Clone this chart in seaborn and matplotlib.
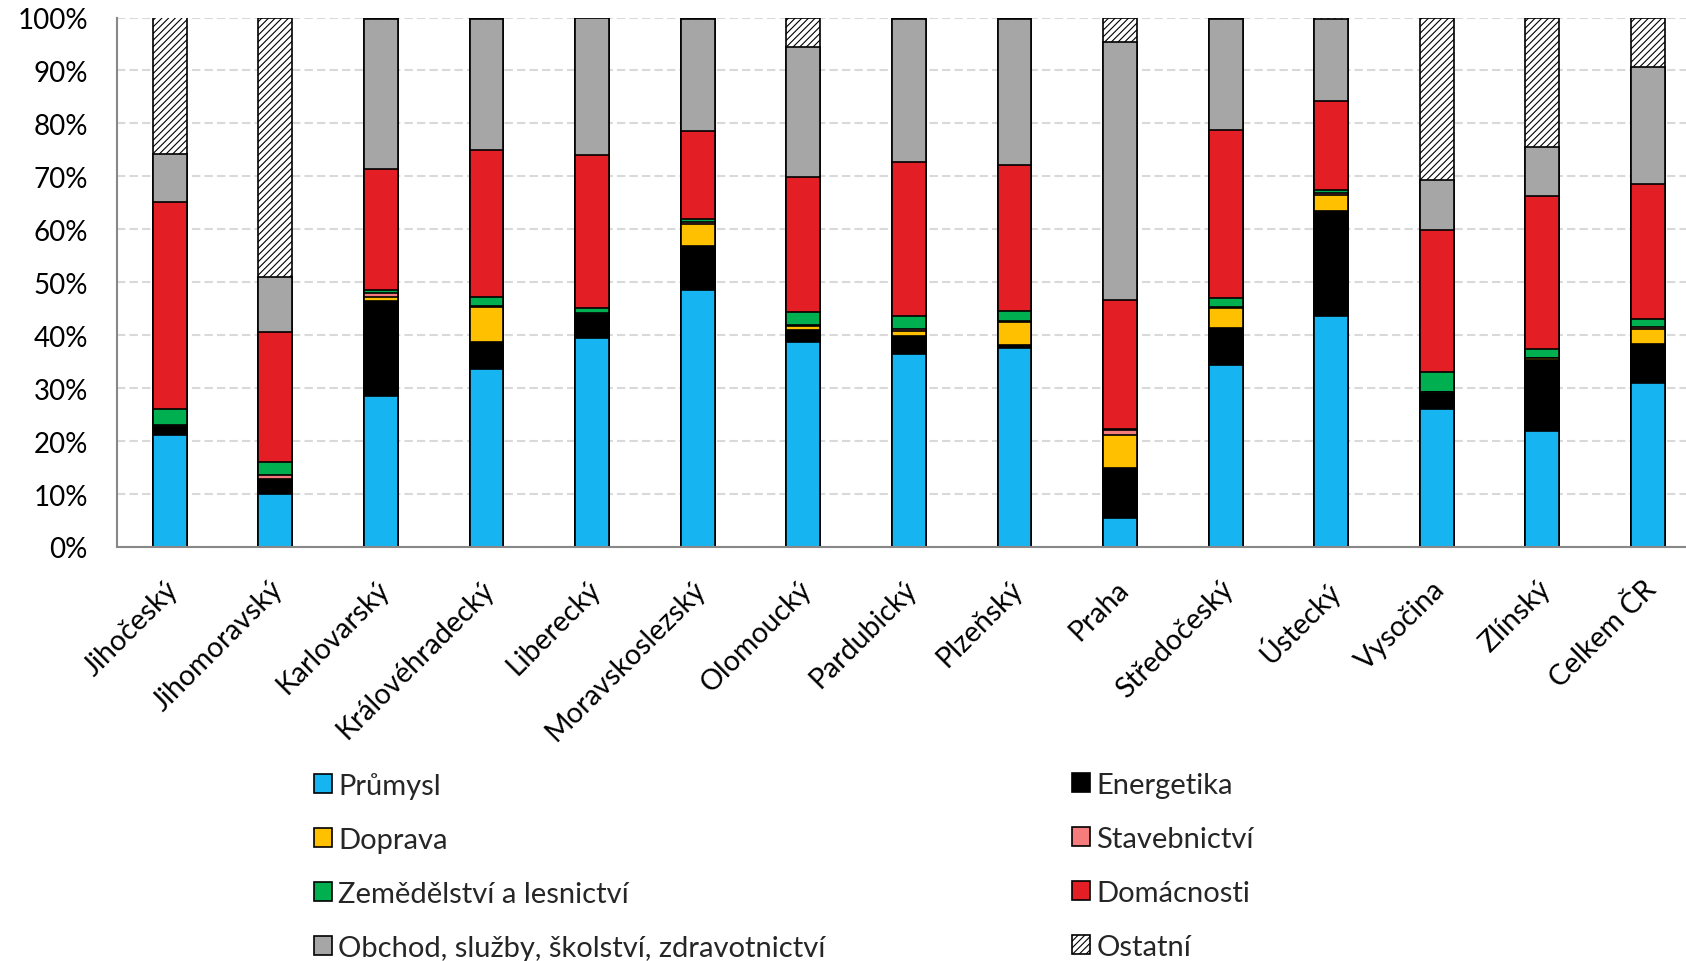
import matplotlib
matplotlib.use("Agg")
import matplotlib.pyplot as plt
import matplotlib.transforms as mtransforms
from matplotlib.patches import Patch
import seaborn as sns
import numpy as np

# Regions (kraje) and the national total
regions = ["Jihočeský", "Jihomoravský", "Karlovarský", "Královéhradecký", "Liberecký",
           "Moravskoslezský", "Olomoucký", "Pardubický", "Plzeňský", "Praha",
           "Středočeský", "Ústecký", "Vysočina", "Zlínský", "Celkem ČR"]

# Share of each sector in % (stacked from bottom to top)
prumysl      = [21.1, 10.1, 28.5, 33.6, 39.4, 48.6, 38.8, 36.4, 37.6,  5.4, 34.4, 43.7, 26.0, 21.9, 30.9]
energetika   = [ 1.5,  2.5, 18.0,  5.2,  4.4,  8.2,  2.1,  3.5,  0.6,  9.6,  6.9, 19.7,  3.0, 13.4,  7.4]
doprava      = [ 0.3,  0.2,  0.7,  6.5,  0.2,  4.2,  0.9,  0.9,  4.3,  6.1,  3.8,  3.0,  0.2,  0.3,  2.8]
stavebnictvi = [ 0.1,  0.8,  0.8,  0.2,  0.1,  0.4,  0.1,  0.3,  0.2,  1.0,  0.3,  0.4,  0.1,  0.1,  0.4]
zemedelstvi  = [ 3.0,  2.4,  0.5,  1.7,  1.0,  0.6,  2.4,  2.5,  1.9,  0.2,  1.7,  0.6,  3.7,  1.7,  1.5]
domacnosti   = [39.1, 24.6, 22.9, 27.7, 28.9, 16.6, 25.6, 29.2, 27.5, 24.4, 31.6, 16.9, 26.8, 28.8, 25.6]
obchod       = [ 9.2, 10.4, 28.3, 24.8, 25.9, 21.1, 24.6, 26.9, 27.6, 48.7, 21.0, 15.4,  9.5,  9.3, 22.0]
ostatni      = [25.7, 49.0,  0.3,  0.3,  0.1,  0.3,  5.5,  0.3,  0.3,  4.6,  0.3,  0.3, 30.7, 24.5,  9.4]

sector_names = ["Průmysl", "Energetika", "Doprava", "Stavebnictví",
                "Zemědělství a lesnictví", "Domácnosti",
                "Obchod, služby, školství, zdravotnictví", "Ostatní"]
sector_values = [prumysl, energetika, doprava, stavebnictvi,
                 zemedelstvi, domacnosti, obchod, ostatni]
sector_colors = ["#17B4F2", "#000000", "#FFC000", "#F47C7C",
                 "#00B050", "#E31E24", "#A6A6A6", "#FFFFFF"]
sector_hatches = [None, None, None, None, None, None, None, "/////"]

sns.set_theme(style="white")
plt.rcParams["font.family"] = ["Lato", "DejaVu Sans"]
plt.rcParams["hatch.linewidth"] = 0.8

fig = plt.figure(figsize=(16.86, 9.62), dpi=100)
W, H = 1686, 962
ax = fig.add_axes([117 / W, 1 - 548 / H, (W - 117) / W, (548 - 18.5) / H])

cum = np.cumsum(np.array(sector_values), axis=0)

# Draw cumulative totals from the top layer down so each segment shows its own colour
for i in range(len(sector_names) - 1, -1, -1):
    kw = {}
    if sector_hatches[i]:
        kw["hatch"] = sector_hatches[i]
    sns.barplot(x=regions, y=cum[i], order=regions, color=sector_colors[i],
                saturation=1, width=0.32, edgecolor="black", linewidth=1.2,
                errorbar=None, ax=ax, zorder=2, **kw)

ax.set_ylim(0, 100)
ax.set_xlim(-0.5, (W - 170) / 105.57)
ax.set_yticks(np.arange(0, 101, 10))
ax.set_yticklabels([f"{v}%" for v in range(0, 101, 10)])
ax.set_xlabel("")
ax.set_ylabel("")

ax.yaxis.grid(True, color="#d9d9d9", linestyle=(0, (4, 2)), linewidth=1.5)
ax.xaxis.grid(False)
ax.set_axisbelow(True)
for side in ["top", "right"]:
    ax.spines[side].set_visible(False)
for side in ["left", "bottom"]:
    ax.spines[side].set_color("#888888")
    ax.spines[side].set_linewidth(1.5)

ax.tick_params(axis="y", length=0, pad=21, labelsize=20, labelcolor="black")
ax.tick_params(axis="x", length=0, pad=27, labelsize=20.5, labelcolor="black")
offset = mtransforms.ScaledTranslation(4 / 100, 0, fig.dpi_scale_trans)
for lbl in ax.get_xticklabels():
    lbl.set_rotation(45)
    lbl.set_ha("right")
    lbl.set_va("center")
    lbl.set_rotation_mode("anchor")
    lbl.set_transform(lbl.get_transform() + offset)

# Legend in two columns
handles = [Patch(facecolor=c, edgecolor="black", linewidth=1.2, hatch=h, label=n)
           for n, c, h in zip(sector_names, sector_colors, sector_hatches)]
left_idx = [0, 2, 4, 6]
right_idx = [1, 3, 5, 7]
common = dict(frameon=False, fontsize=21, handlelength=0.62, handleheight=0.62,
              handletextpad=0.22, labelspacing=0.96, borderpad=0, borderaxespad=0,
              loc="upper left")
leg1 = fig.legend([handles[i] for i in left_idx], [sector_names[i] for i in left_idx],
                  bbox_to_anchor=(314 / W, 1 - 773 / H), **common)
leg2 = fig.legend([handles[i] for i in right_idx], [sector_names[i] for i in right_idx],
                  bbox_to_anchor=(1072 / W, 1 - 773 / H), **common)

fig.savefig("out.png", dpi=100)
